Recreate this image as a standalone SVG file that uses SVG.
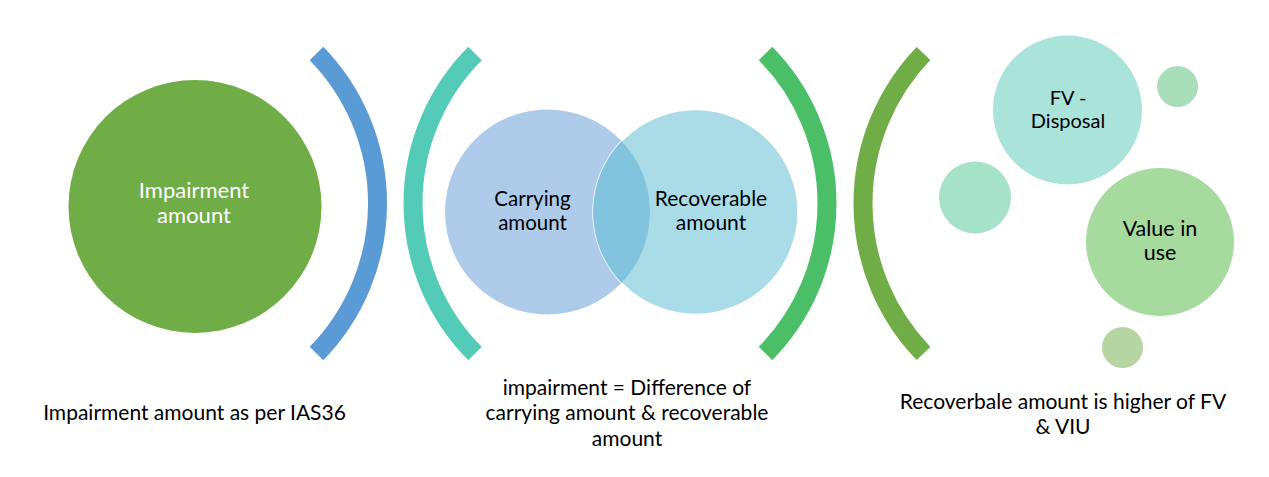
<svg xmlns="http://www.w3.org/2000/svg" width="1269" height="477" viewBox="0 0 1269 477">
<defs>
<style>
.arc{fill:none;stroke-width:19;stroke-linecap:butt}
.t{font-family:Lato,"Open Sans","Liberation Sans",sans-serif;font-size:21px;fill:#000;text-anchor:middle}
.w{fill:#fff;font-size:22px}
</style>
<clipPath id="clipL"><circle cx="547.5" cy="212" r="102.5"/></clipPath>
</defs>
<rect width="1269" height="477" fill="#fff"/>
<g id="connectors">
<path class="arc" stroke="#5B9BD5" d="M316.5,53.5 A214.9,214.9 0 0 1 316.5,353.5"/>
<path class="arc" stroke="#53CBB7" d="M475,53.5 A212.5,212.5 0 0 0 475,353.5"/>
<path class="arc" stroke="#4BBF68" d="M765.5,53.5 A213.7,213.7 0 0 1 765.5,353.5"/>
<path class="arc" stroke="#70AD47" d="M923.5,53.5 A216.2,216.2 0 0 0 923.5,353.5"/>
</g>
<g id="impairment">
<circle cx="195" cy="206.5" r="126.5" fill="#70AD47"/>
<text class="t w" x="194" y="198">Impairment</text>
<text class="t w" x="194" y="223">amount</text>
</g>
<g id="venn">
<circle cx="547.5" cy="212" r="102.5" fill="#AFCBEA"/>
<circle cx="695.5" cy="212" r="102.5" fill="#AADCE8" stroke="#fff" stroke-width="1.5"/>
<circle cx="695.5" cy="212" r="102.5" fill="#82C3DD" clip-path="url(#clipL)"/>
<text class="t" x="532.5" y="206" style="font-size:20.5px">Carrying</text>
<text class="t" x="532.5" y="230" style="font-size:20.5px">amount</text>
<text class="t" x="711" y="206">Recoverable</text>
<text class="t" x="711" y="230">amount</text>
</g>
<g id="bubbles">
<circle cx="1067.5" cy="110" r="74.5" fill="#A9E3DA"/>
<circle cx="1177.5" cy="86.5" r="20.5" fill="#A8DFBA"/>
<circle cx="975" cy="197.5" r="36" fill="#A6E2C8"/>
<circle cx="1160" cy="242" r="74" fill="#A6DA9E"/>
<circle cx="1122.5" cy="347.5" r="20.5" fill="#B7D5A2"/>
<text class="t" x="1068" y="105" style="font-size:20px">FV -</text>
<text class="t" x="1068" y="128" style="font-size:20px">Disposal</text>
<text class="t" x="1160" y="236" style="font-size:21.5px">Value in</text>
<text class="t" x="1160" y="260" style="font-size:21.5px">use</text>
</g>
<g id="captions">
<text class="t" x="194.5" y="420">Impairment amount as per IAS36</text>
<text class="t" x="627" y="395">impairment = Difference of</text>
<text class="t" x="627" y="420">carrying amount &amp; recoverable</text>
<text class="t" x="627" y="446">amount</text>
<text class="t" x="1063" y="409">Recoverbale amount is higher of FV</text>
<text class="t" x="1063" y="434">&amp; VIU</text>
</g>
</svg>
